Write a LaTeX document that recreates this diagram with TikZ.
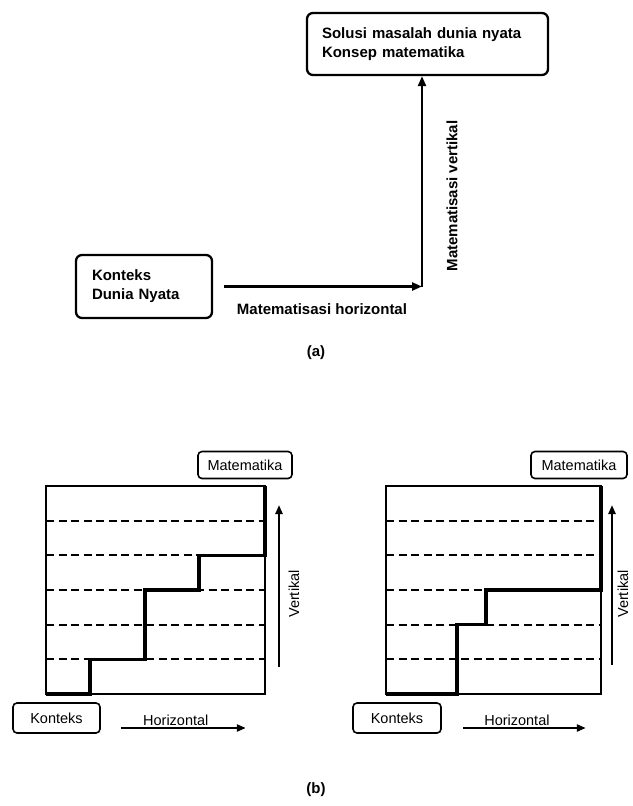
\documentclass[tikz,border=0pt]{standalone}
\usepackage{fontspec}
\setmainfont{Liberation Sans}
\usetikzlibrary{arrows.meta}
\begin{document}
\begin{tikzpicture}[x=1pt,y=-1pt,
  boxa/.style={draw, line width=2.3pt, rounded corners=6pt, align=left, inner xsep=0pt,
     font=\bfseries\fontsize{15}{19}\selectfont},
  lbla/.style={font=\bfseries\fontsize{15}{18}\selectfont, inner sep=0pt},
  arra/.style={line width=2.3pt, -{Triangle[length=10pt,width=8pt]}},
  boxb/.style={draw, line width=1.6pt, rounded corners=4pt, inner sep=0pt,
     font=\fontsize{14.5}{17}\selectfont},
  lblb/.style={font=\fontsize{14.5}{17}\selectfont, inner sep=0pt},
  arrb/.style={line width=2.2pt, -{Triangle[length=9pt,width=7pt]}},
  frame/.style={line width=1.8pt},
  dashline/.style={line width=2pt, dash pattern=on 8pt off 4.5pt},
  stair/.style={line width=3.5pt, line join=miter}
]
\useasboundingbox (0,0) rectangle (632,806);

% ---------- (a) ----------
\node[boxa, minimum width=241pt, minimum height=62pt, text width=211pt] (sol) at (427.5,44)
  {Solusi masalah dunia nyata\\Konsep matematika};
\node[boxa, minimum width=136pt, minimum height=63pt, text width=104pt] (kon) at (144,286.5)
  {Konteks\\Dunia Nyata};
\coordinate (corner) at (422,286.5);
\draw[arra] ([xshift=11pt]kon.east) -- (corner);
\draw[arra] (corner) -- (corner |- sol.south);
\node[lbla] (mh) at (322,309) {Matematisasi horizontal};
\node[lbla, rotate=90] (mv) at (452,196) {Matematisasi vertikal};
\node[lbla] (la) at (316,353) {(a)};

% ---------- (b) left ----------
\draw[frame] (46,486) rectangle (265,694);
\foreach \yy in {659.33,624.67,590,555.33,520.67}
  \draw[dashline] (46,\yy) -- (265,\yy);
\draw[stair] (46,694) -- (90,694) -- (90,659.33) -- (145,659.33) -- (145,590)
  -- (199,590) -- (199,555.33) -- (265,555.33) -- (265,486);
\node[boxb, minimum width=94pt, minimum height=27pt] (m1) at (245,465) {Matematika};
\node[boxb, minimum width=87pt, minimum height=30pt] (k1) at (56.5,718) {Konteks};
\coordinate (v1a) at (279,667);
\coordinate (v1b) at (279,505);
\draw[arrb] (v1a) -- (v1b);
\node[lblb, rotate=90] (vt1) at (294,594) {Vertikal};
\coordinate (h1a) at ([xshift=20pt,yshift=-10pt]k1.east);
\coordinate (h1b) at ([xshift=145pt,yshift=-10pt]k1.east);
\draw[arrb] (h1a) -- (h1b) node[lblb, pos=0.44, above=1pt] (ht1) {Horizontal};

% ---------- (b) right ----------
\draw[frame] (386,486) rectangle (601,694);
\foreach \yy in {659.33,624.67,590,555.33,520.67}
  \draw[dashline] (386,\yy) -- (601,\yy);
\draw[stair] (386,694) -- (457,694) -- (457,624.67) -- (486,624.67) -- (486,590)
  -- (601,590) -- (601,486);
\node[boxb, minimum width=96pt, minimum height=27pt] (m2) at (579,465) {Matematika};
\node[boxb, minimum width=88pt, minimum height=30pt] (k2) at (397,718) {Konteks};
\coordinate (v2a) at (612,665);
\coordinate (v2b) at (612,505);
\draw[arrb] (v2a) -- (v2b);
\node[lblb, rotate=90] (vt2) at (623,594) {Vertikal};
\coordinate (h2a) at ([xshift=21pt,yshift=-10pt]k2.east);
\coordinate (h2b) at ([xshift=144pt,yshift=-10pt]k2.east);
\draw[arrb] (h2a) -- (h2b) node[lblb, pos=0.44, above=1pt] (ht2) {Horizontal};

\node[lblb, font=\bfseries\fontsize{15}{18}\selectfont] (lb) at (316,790) {(b)};
\end{tikzpicture}
\end{document}
